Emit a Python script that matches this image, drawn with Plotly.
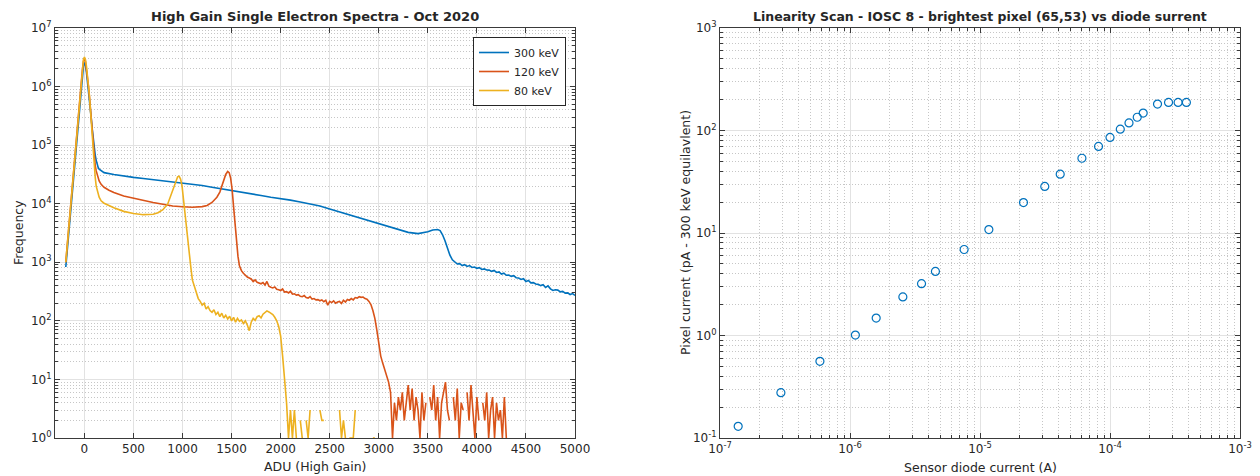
import plotly.graph_objects as go

# ---------------- Left panel: single electron spectra (ADU, frequency) ----------------
spec_300keV = [
    (-190, 830), (-170, 2050), (-150, 5100), (-130, 12600), (-110, 31600), (-90, 78000),
    (-70, 190000), (-50, 480000), (-30, 1120000), (-20, 1660000), (-10, 2240000), (0, 2570000),
    (10, 2300000), (20, 1780000), (30, 1260000), (40, 955000), (50, 708000), (60, 447000),
    (70, 282000), (80, 186000), (90, 126000), (100, 89000), (110, 67600), (120, 55000),
    (130, 46800), (140, 41700), (150, 38900), (170, 36300), (200, 33900), (300, 31600),
    (400, 29500), (500, 28200), (600, 26900), (700, 25700), (800, 24500), (900, 24000),
    (1000, 22900), (1100, 21900), (1200, 20400), (1300, 19100), (1400, 17800), (1500, 16600),
    (1600, 15500), (1700, 14800), (1800, 13800), (1900, 12900), (2000, 12000), (2100, 11500),
    (2200, 10700), (2300, 10000), (2400, 9120), (2500, 8130), (2600, 7240), (2700, 6460),
    (2800, 5750), (2900, 5130), (3000, 4570), (3100, 3980), (3200, 3550), (3300, 3240),
    (3400, 3090), (3450, 3160), (3500, 3310), (3550, 3550), (3600, 3630), (3625, 3470),
    (3650, 2950), (3675, 2340), (3700, 1780), (3725, 1320), (3750, 1100), (3775, 1000),
    (3800, 935), (3825, 950), (3850, 880), (3875, 910), (3900, 850), (3925, 880),
    (3950, 815), (3975, 830), (4000, 790), (4025, 810), (4050, 755), (4075, 770),
    (4100, 740), (4125, 735), (4150, 700), (4175, 725), (4200, 670), (4225, 685),
    (4250, 628), (4275, 650), (4300, 600), (4325, 605), (4350, 575), (4375, 590),
    (4400, 545), (4425, 540), (4450, 510), (4475, 525), (4500, 468), (4525, 490),
    (4550, 445), (4575, 450), (4600, 425), (4625, 420), (4650, 400), (4675, 415),
    (4700, 372), (4725, 395), (4750, 352), (4775, 330), (4800, 340), (4825, 335),
    (4850, 312), (4875, 318), (4900, 298), (4925, 300), (4950, 282), (4975, 292),
    (5000, 272),
]

spec_120keV = [
    (-190, 1000), (-170, 2500), (-150, 6300), (-130, 15800), (-110, 39800), (-90, 100000),
    (-70, 240000), (-50, 600000), (-30, 1350000), (-20, 2000000), (-10, 2700000), (0, 3000000),
    (10, 2700000), (20, 2100000), (30, 1480000), (40, 1050000), (50, 700000), (60, 420000),
    (70, 250000), (80, 150000), (90, 89000), (100, 60000), (110, 44700), (120, 36300),
    (130, 30900), (140, 27500), (150, 24500), (170, 21400), (200, 19100), (250, 17000),
    (300, 15500), (400, 13500), (500, 12300), (600, 11200), (700, 10500), (800, 9800),
    (900, 9120), (1000, 8900), (1100, 8710), (1200, 8910), (1250, 9330), (1300, 10500),
    (1350, 12900), (1380, 15800), (1400, 19500), (1420, 25100), (1440, 31600), (1460, 35500),
    (1475, 33900), (1490, 27500), (1505, 17800), (1520, 8900), (1535, 4470), (1550, 2240),
    (1565, 1260), (1580, 870), (1600, 720), (1620, 650), (1640, 600), (1660, 560),
    (1680, 540), (1700, 520), (1720, 470), (1740, 500), (1760, 455), (1780, 445),
    (1800, 430), (1820, 450), (1840, 410), (1860, 470), (1880, 390), (1900, 375),
    (1920, 365), (1940, 380), (1960, 345), (1980, 340), (2000, 330), (2020, 350),
    (2040, 310), (2060, 315), (2080, 300), (2100, 320), (2120, 285), (2140, 290),
    (2160, 275), (2180, 280), (2200, 262), (2220, 258), (2240, 270), (2260, 250),
    (2280, 245), (2300, 260), (2320, 235), (2340, 240), (2360, 228), (2380, 230),
    (2400, 220), (2420, 228), (2440, 212), (2460, 225), (2480, 185), (2500, 215),
    (2520, 205), (2540, 220), (2560, 200), (2580, 210), (2600, 215), (2620, 198),
    (2640, 225), (2660, 210), (2680, 232), (2700, 225), (2720, 240), (2740, 228),
    (2760, 250), (2780, 245), (2800, 258), (2820, 252), (2840, 255), (2860, 240),
    (2880, 235), (2900, 215), (2920, 190), (2940, 150), (2960, 110), (2980, 70),
    (3000, 40), (3020, 25), (3040, 19), (3060, 15), (3080, 12), (3100, 9),
    (3120, 6), (3140, 1), (3160, 4), (3180, 2), (3200, 5), (3220, 3),
    (3240, 6), (3260, 2), (3280, 4), (3300, 8), (3320, 3), (3340, 7),
    (3360, 2), (3380, 5), (3400, 3), (3420, 1), (3440, 6), (3460, 2),
    (3480, 4), (3500, 0), (3520, 5), (3540, 3), (3560, 8), (3580, 2),
    (3600, 5), (3620, 1), (3640, 4), (3660, 6), (3680, 9), (3700, 3),
    (3720, 2), (3740, 0), (3760, 5), (3780, 2), (3800, 7), (3820, 1),
    (3840, 4), (3860, 3), (3880, 0), (3900, 6), (3920, 2), (3940, 8),
    (3960, 3), (3980, 1), (4000, 5), (4020, 2), (4040, 0), (4060, 4),
    (4080, 2), (4100, 6), (4120, 1), (4140, 3), (4160, 5), (4180, 1),
    (4200, 4), (4220, 2), (4240, 3), (4260, 1), (4280, 5), (4300, 1),
]

spec_80keV = [
    (-190, 1000), (-170, 2500), (-150, 6300), (-130, 16000), (-110, 40000), (-90, 100000),
    (-70, 250000), (-50, 630000), (-30, 1450000), (-20, 2150000), (-10, 2900000), (0, 3200000),
    (10, 2900000), (20, 2250000), (30, 1600000), (40, 1100000), (50, 720000), (60, 430000),
    (70, 240000), (80, 126000), (90, 70800), (100, 44700), (110, 28200), (120, 20000),
    (130, 16600), (140, 14100), (150, 12900), (170, 11200), (200, 10200), (250, 9300),
    (300, 8500), (400, 7400), (500, 6800), (600, 6500), (700, 6600), (750, 7000),
    (800, 7900), (850, 10000), (880, 13800), (900, 17800), (925, 24000), (950, 28800),
    (965, 29500), (980, 26300), (995, 20000), (1010, 11200), (1025, 6300), (1040, 3550),
    (1055, 2000), (1070, 1260), (1085, 800), (1100, 500), (1120, 380), (1140, 290),
    (1160, 240), (1180, 215), (1200, 185), (1220, 200), (1240, 160), (1260, 175),
    (1280, 150), (1300, 140), (1320, 155), (1340, 128), (1360, 140), (1380, 118),
    (1400, 135), (1420, 112), (1440, 125), (1460, 108), (1480, 120), (1500, 100),
    (1520, 115), (1540, 95), (1560, 110), (1580, 98), (1600, 104), (1620, 90),
    (1640, 100), (1660, 85), (1680, 68), (1700, 95), (1720, 110), (1740, 102),
    (1760, 118), (1780, 122), (1800, 112), (1820, 130), (1840, 138), (1860, 148),
    (1880, 142), (1900, 135), (1920, 128), (1940, 115), (1960, 100), (1980, 80),
    (2000, 55), (2020, 25), (2040, 10), (2060, 4), (2080, 1), (2100, 3),
    (2120, 1), (2140, 3), (2160, 1), (2180, 0), (2200, 2), (2220, 1),
    (2240, 0), (2260, 2), (2280, 1), (2300, 3), (2320, 0), (2400, 3),
    (2420, 2), (2440, 2), (2460, 0), (2580, 0), (2600, 3), (2620, 1),
    (2640, 2), (2660, 1), (2680, 0), (2700, 1), (2720, 1), (2740, 1),
    (2760, 3), (2780, 0), (2940, 1), (2960, 1), (2980, 0),
]

series_names = ["300 keV", "120 keV", "80 keV"]
adu_ticks = [0, 500, 1000, 1500, 2000, 2500, 3000, 3500, 4000, 4500, 5000]
freq_decades = [0, 1, 2, 3, 4, 5, 6, 7]

# ---------------- Right panel: linearity scan ----------------
diode_current_A = [1.38e-7, 2.94e-7, 5.87e-7, 1.10e-6, 1.59e-6, 2.55e-6, 3.55e-6, 4.54e-6,
                   7.55e-6, 1.17e-5, 2.16e-5, 3.15e-5, 4.14e-5, 6.08e-5, 8.16e-5, 1.00e-4,
                   1.20e-4, 1.40e-4, 1.62e-4, 1.80e-4, 2.32e-4, 2.82e-4, 3.34e-4, 3.87e-4]
pixel_current_pA = [0.130, 0.277, 0.56, 1.01, 1.48, 2.38, 3.2, 4.22,
                    6.9, 10.8, 19.8, 28.5, 37.5, 53.6, 70, 85.5,
                    103, 118.6, 134.6, 148, 181, 188, 188, 188]
diode_decades = [-7, -6, -5, -4, -3]
pixel_decades = [-1, 0, 1, 2, 3]

# ---------------- Styling ----------------
COLORS = ["#0072BD", "#D95319", "#EDB120"]
AX = "#3a3a3a"
GRID = "#e2e2e2"
MINOR = "#c6c6c6"
FONT = "DejaVu Sans"
TXT = "#262626"

W, H = 1260, 476
L1, R1 = 55, 575
L2, R2 = 720, 1240
TOP, BOT = 28, 438
dom_x1 = [L1 / W, R1 / W]
dom_x2 = [L2 / W, R2 / W]
dom_y = [1 - BOT / H, 1 - TOP / H]


def minor_vals(decades):
    return [m * 10 ** d for d in decades[:-1] for m in range(2, 10)]


def dec_text(decades):
    return ["10<sup>%d</sup>" % d for d in decades]


fig = go.Figure()
for name, pairs, color in zip(series_names, [spec_300keV, spec_120keV, spec_80keV], COLORS):
    xs = [p[0] for p in pairs]
    ys = [p[1] if p[1] > 0 else None for p in pairs]
    fig.add_trace(go.Scatter(x=xs, y=ys, mode="lines", name=name, connectgaps=False,
                             line=dict(color=color, width=1.6), xaxis="x", yaxis="y"))

fig.add_trace(go.Scatter(x=diode_current_A, y=pixel_current_pA, mode="markers", showlegend=False,
                         marker=dict(symbol="circle-open", size=8, color=COLORS[0],
                                     line=dict(width=1.2, color=COLORS[0])),
                         xaxis="x2", yaxis="y2"))

base = dict(showline=True, linecolor=AX, linewidth=1, mirror="ticks", ticks="inside",
            ticklen=5, tickcolor=AX, tickfont=dict(family=FONT, size=12, color=TXT),
            showgrid=True, gridcolor=GRID, gridwidth=1, zeroline=False, automargin=False)
minor_style = dict(ticks="inside", ticklen=3, tickcolor=AX, showgrid=True,
                   gridcolor=MINOR, griddash="1px,2px", gridwidth=1)

fig.update_layout(
    width=W, height=H, margin=dict(l=0, r=0, t=0, b=0, autoexpand=False),
    paper_bgcolor="white", plot_bgcolor="white",
    font=dict(family=FONT, color=TXT),
    xaxis=dict(base, domain=dom_x1, range=[-300, 5000], tickmode="array",
               tickvals=adu_ticks, anchor="y"),
    yaxis=dict(base, domain=dom_y, type="log", range=[0, 7], tickmode="array",
               tickvals=[10 ** d for d in freq_decades], ticktext=dec_text(freq_decades),
               anchor="x",
               minor=dict(minor_style, tickmode="array", tickvals=minor_vals(freq_decades))),
    xaxis2=dict(base, domain=dom_x2, type="log", range=[-7, -3], tickmode="array",
                tickvals=[10 ** d for d in diode_decades], ticktext=dec_text(diode_decades),
                anchor="y2",
                minor=dict(minor_style, tickmode="array", tickvals=minor_vals(diode_decades))),
    yaxis2=dict(base, domain=dom_y, type="log", range=[-1, 3], tickmode="array",
                tickvals=[10 ** d for d in pixel_decades], ticktext=dec_text(pixel_decades),
                anchor="x2",
                minor=dict(minor_style, tickmode="array", tickvals=minor_vals(pixel_decades))),
    legend=dict(x=566 / W, y=1 - 37 / H, xanchor="right", yanchor="top",
                bordercolor="#262626", borderwidth=1, bgcolor="white",
                font=dict(family=FONT, size=11, color=TXT), tracegroupgap=0,
                itemwidth=30),
    showlegend=True,
)

ann = [
    dict(text="<b>High Gain Single Electron Spectra - Oct 2020</b>", x=(L1 + R1) / 2 / W, y=1 - 17 / H,
         font=dict(size=13)),
    dict(text="<b>Linearity Scan - IOSC 8 - brightest pixel (65,53) vs diode surrent</b>",
         x=(L2 + R2) / 2 / W, y=1 - 17 / H, font=dict(size=12.5)),
    dict(text="ADU (High Gain)", x=(L1 + R1) / 2 / W, y=1 - 466 / H, font=dict(size=12.5)),
    dict(text="Sensor diode current (A)", x=(L2 + R2) / 2 / W, y=1 - 467 / H, font=dict(size=12.5)),
    dict(text="Frequency", x=18 / W, y=1 - 233 / H, textangle=-90, font=dict(size=12.5)),
    dict(text="Pixel current (pA - 300 keV equilavlent)", x=685 / W, y=1 - 233 / H, textangle=-90,
         font=dict(size=12.5)),
]
for a in ann:
    fig.add_annotation(xref="paper", yref="paper", showarrow=False, xanchor="center", yanchor="middle",
                       font=dict(family=FONT, color=TXT, size=a["font"]["size"]),
                       **{k: v for k, v in a.items() if k != "font"})

fig.write_html("out.html", config={"displayModeBar": False},
               post_script="document.body.style.margin='0px';document.body.style.overflow='hidden';")
